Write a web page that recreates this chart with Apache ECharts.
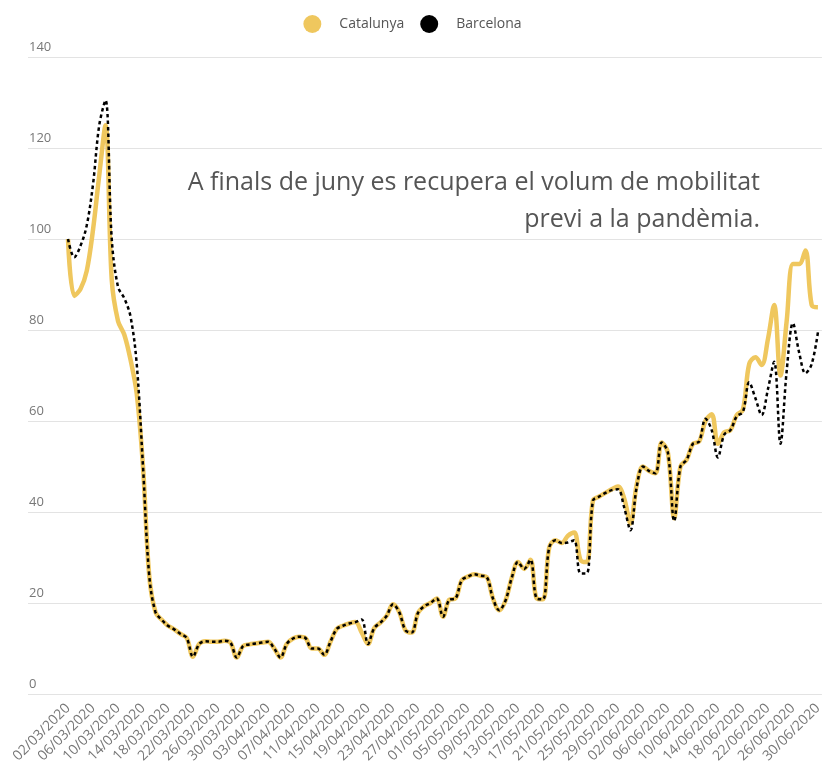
<!DOCTYPE html>
<html>
<head>
<meta charset="utf-8">
<script src="https://cdn.jsdelivr.net/npm/echarts@6/dist/echarts.min.js"></script>
<style>
  html, body { margin: 0; padding: 0; background: #fff; }
  #chart { width: 825px; height: 773px; }
</style>
</head>
<body>
<div id="chart"></div>
<script>
  // one label every 4 days, 02/03/2020 .. 30/06/2020 (day index 0..120)
  var tickLabels = ['02/03/2020', '06/03/2020', '10/03/2020', '14/03/2020', '18/03/2020', '22/03/2020',
    '26/03/2020', '30/03/2020', '03/04/2020', '07/04/2020', '11/04/2020', '15/04/2020', '19/04/2020',
    '23/04/2020', '27/04/2020', '01/05/2020', '05/05/2020', '09/05/2020', '13/05/2020', '17/05/2020',
    '21/05/2020', '25/05/2020', '29/05/2020', '02/06/2020', '06/06/2020', '10/06/2020', '14/06/2020',
    '18/06/2020', '22/06/2020', '26/06/2020', '30/06/2020'];
  var tickDays = [0, 4, 8, 12, 16, 20, 24, 28, 32, 36, 40, 44, 48, 52, 56, 60, 64, 68, 72, 76, 80,
    84, 88, 92, 96, 100, 104, 108, 112, 116, 120];

  var catalunya = [
    100, 87.5, 89, 93, 102, 114, 125, 91, 82, 79,
    73.5, 66, 50, 26, 18, 16.3, 15, 14.2, 13.2, 12.3,
    8.2, 11, 11.6, 11.5, 11.5, 11.7, 11.3, 8, 10.5, 10.9,
    11.1, 11.3, 11.5, 10, 8, 11, 12.2, 12.6, 12.3, 10,
    10, 8.6, 11.5, 14.3, 15, 15.5, 15.8, 13.5, 11, 14.5,
    15.7, 17.2, 19.7, 18, 14, 13.5, 17.8, 19.3, 20, 21,
    17, 20.7, 21, 25, 25.8, 26.3, 26, 25.7, 21, 18.4,
    20.5, 25.5, 29, 27.5, 29.5, 21, 20.8, 32.2, 33.8, 33.2,
    34.8, 35.5, 29.5, 29, 42.5, 43.4, 44.2, 45, 45.6, 43,
    37.5, 46, 50, 49, 48.5, 55.3, 53, 38.6, 50, 51.5,
    55, 55.5, 60, 61.5, 55, 57.5, 58, 61.3, 62.5, 72.5,
    74, 72.3, 78, 85.5, 70, 82, 94.5, 94.5, 97.5, 85.5,
    85
  ];
  var barcelona = [
    100, 96, 98.5, 103, 112, 125, 130.5, 100, 89.5, 87,
    83, 72.5, 50, 26, 18, 16.3, 15, 14.2, 13.2, 12.3,
    8.2, 11, 11.6, 11.5, 11.5, 11.7, 11.3, 8, 10.5, 10.9,
    11.1, 11.3, 11.5, 10, 8, 11, 12.2, 12.6, 12.3, 10,
    10, 8.6, 11.5, 14.3, 15, 15.5, 15.8, 16.4, 11, 14.5,
    15.7, 17.2, 19.7, 18, 14, 13.5, 17.8, 19.3, 20, 21,
    17, 20.7, 21, 25, 25.8, 26.3, 26, 25.7, 21, 18.4,
    20.5, 25.5, 29, 27.5, 29.5, 21, 20.8, 32.2, 33.8, 33.2,
    33.3, 33.8, 26.5, 26.5, 42.5, 43.4, 44.2, 44.8, 45, 41,
    36, 45.5, 50, 49, 48.5, 55.3, 53, 38, 50, 51.5,
    55, 55.5, 60.5, 58, 52, 57, 58, 61, 62, 68.5,
    65, 61.3, 67, 73, 55, 71, 81.5, 75, 70.5, 72.5,
    79.5
  ];

  var yTicks = [0, 20, 40, 60, 80, 100, 120, 140];

  function toPoints(arr) {
    return arr.map(function (v, i) { return [i, v]; });
  }

  var chart = echarts.init(document.getElementById('chart'));
  chart.setOption({
    animation: false,
    textStyle: { fontFamily: 'Open Sans' },
    legend: {
      top: 10,
      left: 'center',
      icon: 'circle',
      itemWidth: 18,
      itemHeight: 18,
      itemGap: 16,
      textStyle: { fontSize: 14, color: '#555', padding: [0, 0, 0, 13] },
      data: ['Catalunya', 'Barcelona']
    },
    grid: { left: 28, right: 3, top: 57, bottom: 79 },
    xAxis: {
      type: 'value',
      min: -6.4,
      max: 120.64,
      axisLine: { show: false },
      axisTick: { show: false },
      splitLine: { show: false },
      axisLabel: {
        customValues: tickDays,
        rotate: 45,
        margin: 12,
        fontSize: 14,
        color: '#777',
        formatter: function (v) { return tickLabels[tickDays.indexOf(v)] || ''; }
      }
    },
    yAxis: {
      type: 'value',
      min: yTicks[0],
      max: yTicks[yTicks.length - 1],
      interval: 20,
      axisLine: { show: false },
      axisTick: { show: false },
      splitLine: { lineStyle: { color: '#e3e3e3', width: 1 } },
      axisLabel: {
        inside: true,
        margin: 1,
        verticalAlign: 'bottom',
        padding: [0, 0, 3, 0],
        fontSize: 13,
        color: '#777'
      }
    },
    graphic: [{
      type: 'text',
      x: 760,
      y: 164,
      style: {
        text: 'A finals de juny es recupera el volum de mobilitat\nprevi a la pandèmia.',
        textAlign: 'right',
        textVerticalAlign: 'top',
        fontSize: 25,
        lineHeight: 37,
        fontFamily: 'Open Sans',
        fill: '#555'
      }
    }],
    series: [{
      name: 'Catalunya',
      type: 'line',
      smooth: 0.35,
      showSymbol: false,
      color: '#efc75e',
      lineStyle: { width: 4.5, color: '#efc75e' },
      data: toPoints(catalunya)
    }, {
      name: 'Barcelona',
      type: 'line',
      smooth: 0.35,
      showSymbol: false,
      color: '#000',
      lineStyle: { width: 2.5, color: '#000', type: [3.5, 3] },
      data: toPoints(barcelona)
    }]
  });
</script>
</body>
</html>
